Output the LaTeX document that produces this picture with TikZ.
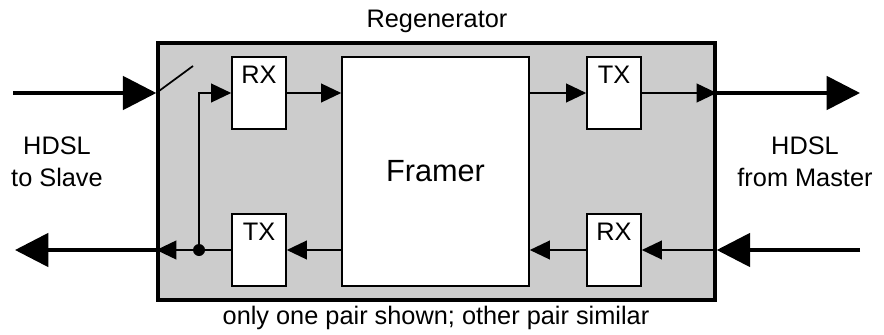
\documentclass[tikz,border=0pt]{standalone}
\usepackage{fontspec}
\setmainfont{Liberation Sans}
\usetikzlibrary{arrows.meta,positioning}
\definecolor{regengray}{rgb}{0.8,0.8,0.8}

\begin{document}
\begin{tikzpicture}[x=0.75pt,y=-0.75pt,
  shell/.style={draw=black, line width=2.6pt, fill=regengray, inner sep=0pt,
  minimum width=417.75pt, minimum height=192.75pt},
  framerbox/.style={draw=black, line width=1.2pt, fill=white, inner sep=0pt,
  minimum width=140.25pt, minimum height=171.75pt, font=\fontsize{23pt}{27pt}\selectfont},
  unit/.style={draw=black, line width=1.2pt, fill=white, inner sep=0pt,
  minimum width=40.5pt, minimum height=54pt},
  unitlabel/.style={anchor=north, inner sep=7pt, font=\fontsize{19pt}{23pt}\selectfont},
  lbl/.style={align=center, font=\fontsize{19pt}{24pt}\selectfont},
  sig/.style={-{Triangle[length=15pt,width=14pt]}, line width=1.3pt},
  hdsl/.style={-{Triangle[length=25pt,width=25pt]}, line width=2.8pt}
]
\useasboundingbox (0,0) rectangle (884,335);

\node[shell] (regen) at (436.5,171.5) {};
\node[lbl] (regentitle) at (437,21) {Regenerator};
\node[lbl] (note) at (436,318) {only one pair shown; other pair similar};

\node[framerbox] (framer) at (435.5,171.5) {Framer};
\node[unit, label={[unitlabel]north:RX}] (rxa) at (259,93) {};
\node[unit, label={[unitlabel]north:TX}] (txa) at (614,93) {};
\node[unit, label={[unitlabel]north:TX}] (txb) at (259,250) {};
\node[unit, label={[unitlabel]north:RX}] (rxb) at (614,250) {};

\node[lbl] (slave) at (57,162) {HDSL\\to Slave};
\node[lbl] (master) at (805,162) {HDSL\\from Master};

\coordinate (inport) at (regen.west |- rxa.west);
\coordinate (outport) at (regen.west |- txb.west);
\coordinate (mport) at (regen.east |- txa.east);
\coordinate (minport) at (regen.east |- rxb.east);
\coordinate (slavein) at (13,93);
\coordinate (slaveout) at (15,250);
\coordinate (masterout) at (860,93);
\coordinate (masterin) at (860,250);
\coordinate (swtip) at (193,66);
\coordinate (tap) at (199,250);

% line side
\draw[hdsl] (slavein) -- (inport);
\draw[hdsl] (outport) -- (slaveout);
\draw[hdsl] (mport) -- (masterout);
\draw[hdsl] (masterin) -- (minport);
\draw[line width=1.3pt] (inport) -- (swtip);

% inside the regenerator
\draw[sig] (tap) |- (rxa.west);
\draw[sig] (txb.west) -- (outport);
\fill (tap) circle (6);
\draw[sig] (rxa.east) -- (rxa.east -| framer.west);
\draw[sig] (txa.west -| framer.east) -- (txa.west);
\draw[sig] (txa.east) -- (mport);
\draw[sig] (minport) -- (rxb.east);
\draw[sig] (rxb.west) -- (rxb.west -| framer.east);
\draw[sig] (txb.east -| framer.west) -- (txb.east);
\end{tikzpicture}
\end{document}
